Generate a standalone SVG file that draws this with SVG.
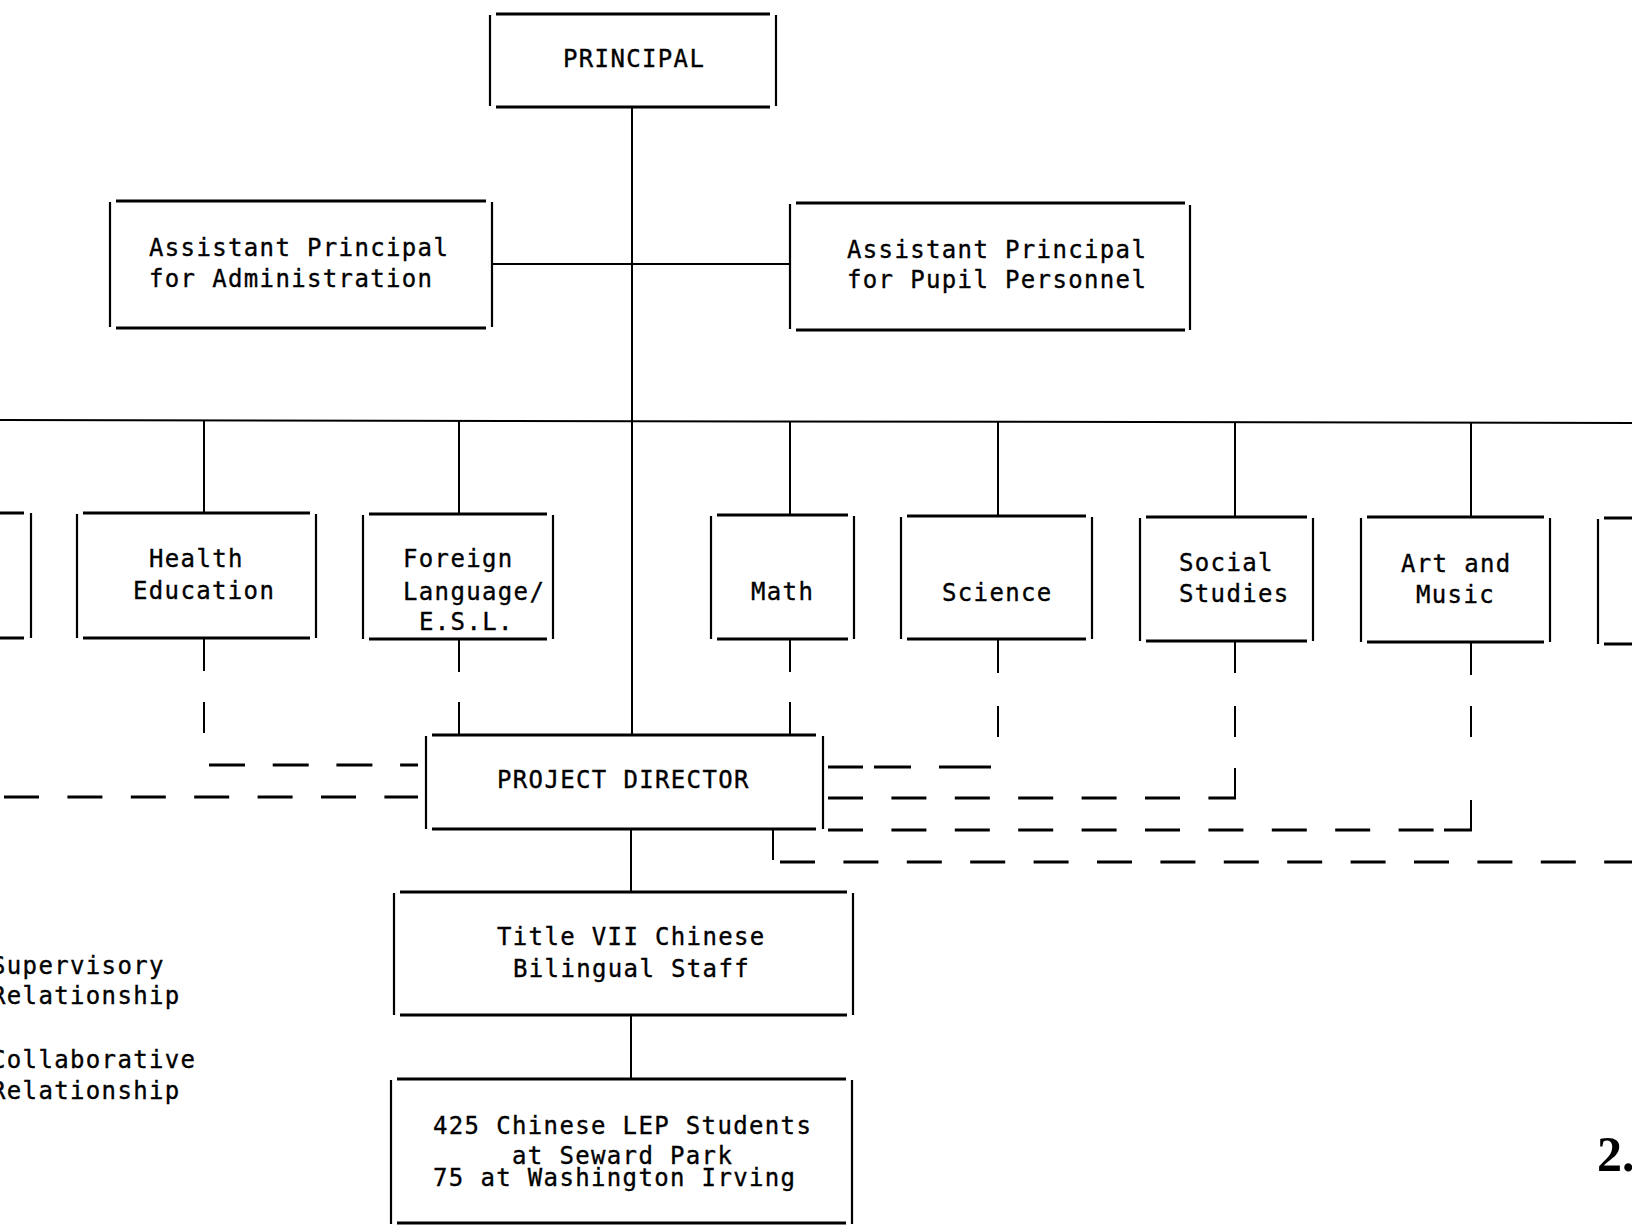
<svg xmlns="http://www.w3.org/2000/svg" width="1632" height="1226" viewBox="0 0 1632 1226">
<style>
.h{stroke:#000;stroke-width:2.8;fill:none}
.v{stroke:#000;stroke-width:2.2;fill:none}
.c{stroke:#000;stroke-width:2;fill:none}
.d{stroke:#000;stroke-width:2.8;fill:none;stroke-dasharray:35 28.4}
text{font-family:"DejaVu Sans Mono","Liberation Mono",monospace;font-size:24px;letter-spacing:1.35px;fill:#000;stroke:#000;stroke-width:0.35}
.pg{font-family:"Liberation Serif",serif;font-size:50px;letter-spacing:0;font-weight:bold;stroke-width:0}
</style>
<rect x="0" y="0" width="1632" height="1226" fill="#fff"/>
<g id="connectors">
<path class="c" d="M632 107 V735 M492 264 H790"/>
<path class="c" d="M0 420 L1632 423"/>
<path class="c" d="M204 420 V513 M459 420 V514 M790 421 V515 M998 421 V516 M1235 422 V517 M1471 422 V517"/>
<path class="c" d="M204 639 V671 M204 702 V733 M459 639 V672 M459 702 V735 M790 639 V672 M790 702 V735 M998 639 V673 M998 706 V737 M1235 641 V673 M1235 706 V737 M1471 642 V675 M1471 706 V737"/>
<path class="c" d="M1235 768 V798 M1471 800 V830 M773 829 V860 M631 829 V892 M631 1015 V1079"/>
<path class="h" d="M1229 798 H1236 M1444 830 H1472 M828 767 H863 M874 767 H911 M939 767 H991"/>
<path class="d" d="M4 797 H418"/>
<path class="d" style="stroke-dasharray:36 27.7" d="M209 765 H418"/>
<path class="d" d="M828 798 H1229"/>
<path class="d" d="M828 830 H1434"/>
<path class="d" d="M780 862 H1632"/>
</g>
<g id="principal">
<path class="h" d="M496 14 H770 M496 107 H770"/><path class="v" d="M490 15 V106 M776 15 V106"/>
<text x="563" y="67">PRINCIPAL</text>
</g>
<g id="ap-admin">
<path class="h" d="M116 201 H486 M116 328 H486"/><path class="v" d="M110 202 V327 M492 202 V327"/>
<text x="149" y="256">Assistant Principal</text>
<text x="149" y="287">for Administration</text>
</g>
<g id="ap-pupil">
<path class="h" d="M796 203 H1185 M796 330 H1185"/><path class="v" d="M790 204 V329 M1190 205 V330"/>
<text x="847" y="258">Assistant Principal</text>
<text x="847" y="288">for Pupil Personnel</text>
</g>
<g id="dept-left">
<path class="h" d="M0 513 H24 M0 638 H24"/><path class="v" d="M31 513 V638"/>
</g>
<g id="health">
<path class="h" d="M83 513 H310 M83 638 H310"/><path class="v" d="M77 514 V638 M316 514 V638"/>
<text x="149" y="567">Health</text>
<text x="133" y="599">Education</text>
</g>
<g id="foreign">
<path class="h" d="M369 514 H547 M369 639 H547"/><path class="v" d="M363 515 V639 M553 515 V639"/>
<text x="403" y="567">Foreign</text>
<text x="403" y="600">Language/</text>
<text x="419" y="630">E.S.L.</text>
</g>
<g id="math">
<path class="h" d="M717 515 H848 M717 639 H848"/><path class="v" d="M711 516 V639 M854 516 V639"/>
<text x="751" y="600">Math</text>
</g>
<g id="science">
<path class="h" d="M907 516 H1086 M907 639 H1086"/><path class="v" d="M901 517 V639 M1092 517 V639"/>
<text x="942" y="601">Science</text>
</g>
<g id="social">
<path class="h" d="M1146 517 H1307 M1146 641 H1307"/><path class="v" d="M1140 518 V641 M1313 518 V641"/>
<text x="1179" y="571">Social</text>
<text x="1179" y="602">Studies</text>
</g>
<g id="art">
<path class="h" d="M1367 517 H1544 M1367 642 H1544"/><path class="v" d="M1361 518 V642 M1550 518 V642"/>
<text x="1401" y="572">Art and</text>
<text x="1416" y="603">Music</text>
</g>
<g id="dept-right">
<path class="h" d="M1604 518 H1632 M1604 644 H1632"/><path class="v" d="M1598 519 V644"/>
</g>
<g id="director">
<path class="h" d="M432 735 H816 M432 829 H816"/><path class="v" d="M426 736 V829 M823 736 V829"/>
<text x="497" y="788">PROJECT DIRECTOR</text>
</g>
<g id="staff">
<path class="h" d="M400 892 H847 M400 1015 H847"/><path class="v" d="M394 893 V1015 M853 893 V1015"/>
<text x="497" y="945">Title VII Chinese</text>
<text x="513" y="977">Bilingual Staff</text>
</g>
<g id="students">
<path class="h" d="M397 1079 H846 M397 1223 H846"/><path class="v" d="M391 1080 V1224 M852 1080 V1224"/>
<text x="433" y="1134">425 Chinese LEP Students</text>
<text x="512" y="1164">at Seward Park</text>
<text x="433" y="1186">75 at Washington Irving</text>
</g>
<g id="legend">
<text x="-9" y="974">Supervisory</text>
<text x="-9" y="1004">Relationship</text>
<text x="-9" y="1068">Collaborative</text>
<text x="-9" y="1099">Relationship</text>
</g>
<text class="pg" x="1597" y="1171">2.</text>
</svg>
